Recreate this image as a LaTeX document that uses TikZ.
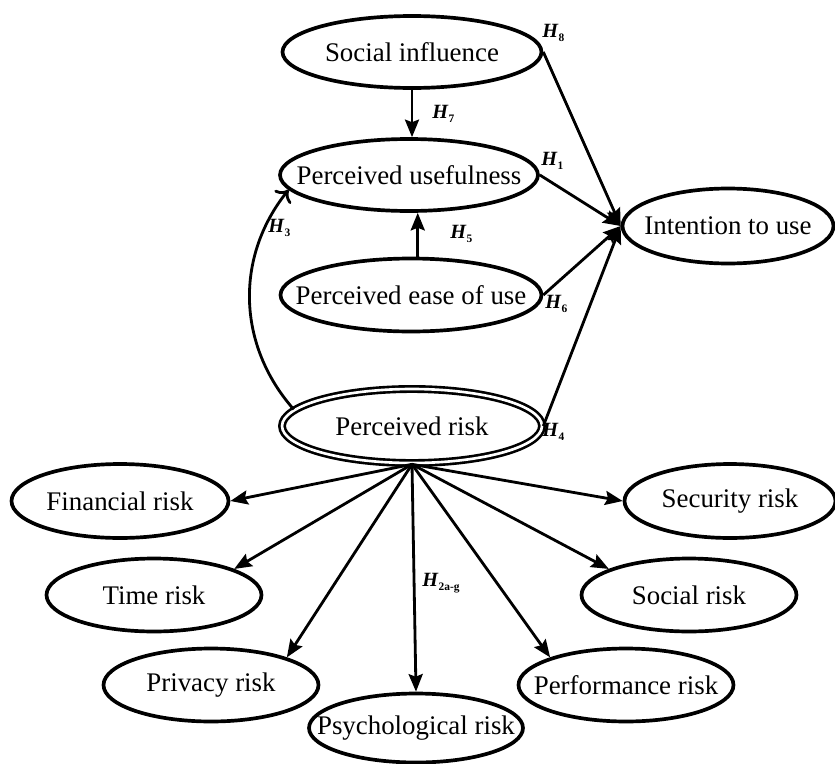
\documentclass[tikz,border=0pt]{standalone}
\usepackage{fontspec}
\setmainfont{Liberation Serif}
\usetikzlibrary{shapes.geometric,arrows.meta}

\newcommand{\boxtext}[1]{\makebox[0pt]{#1}}
\newcommand{\hlab}[1]{\textbf{\textit{H}}\raisebox{-0.5ex}{\fontsize{6.5}{7}\selectfont\bfseries #1}}

\tikzset{
  construct/.style={draw, ellipse, line width=2.1pt, inner sep=0pt, minimum width=4.3cm, minimum height=1.46cm},
  path arrow/.style={line width=1.6pt, -{Stealth[length=10pt,width=8pt,inset=1.5pt]}},
  hyplabel/.style={anchor=west, inner sep=0pt, font=\fontsize{11.5}{12}\selectfont},
}

\begin{document}
\begin{tikzpicture}[x=0.02cm, y=-0.02cm, font=\fontsize{15.3}{18}\selectfont]
            \useasboundingbox (0,0) rectangle (835,764);
            % model constructs
            \node[construct, minimum width=5.18cm, minimum height=1.44cm] (si) at (412,52) {\boxtext{Social influence}};
            \node[construct, minimum width=5.16cm, minimum height=1.44cm] (pu) at (409,175) {\boxtext{Perceived usefulness}};
            \node[construct, minimum width=5.22cm, minimum height=1.46cm] (peou) at (411,295) {\boxtext{Perceived ease of use}};
            \node[construct, double, double distance=1.5pt, line width=1.5pt, minimum width=5.2cm, minimum height=1.48cm] (pr) at (412,426) {\boxtext{Perceived risk}};
            \node[construct, minimum width=4.22cm, minimum height=1.5cm] (iu) at (728,226) {\boxtext{Intention to use}};
            % risk dimensions
            \node[construct, minimum width=4.34cm, minimum height=1.48cm] (fin) at (120,501) {\boxtext{Financial risk}};
            \node[construct, minimum width=4.22cm, minimum height=1.48cm] (sec) at (730,501) {\boxtext{Security risk}};
            \node[construct] (time) at (154,595) {\boxtext{Time risk}};
            \node[construct] (soc) at (689,595) {\boxtext{Social risk}};
            \node[construct] (priv) at (211,685) {\boxtext{Privacy risk}};
            \node[construct] (perf) at (626,685) {\boxtext{Performance risk}};
            \node[construct, minimum width=4.28cm, minimum height=1.38cm] (psy) at (416,728) {\boxtext{Psychological risk}};

            % paths
            \draw[path arrow] (si.south) -- (si.south |- pu.north);
            \draw[path arrow] (peou.80) -- (peou.80 |- pu.south);
            \draw[path arrow] (si.east) -- (iu.west);
            \draw[path arrow] (pu.east) -- (iu.west);
            \draw[path arrow] (peou.east) -- (iu.west);
            \draw[path arrow] (pr.east) -- (iu.west);
            \draw[line width=1.6pt, -{To[length=6pt,width=12pt]}] (pr.172) to[bend left=40] (pu.187);
            \foreach \t in {fin.east, time.18, priv.20, psy.north, perf.160, soc.162, sec.west}
                \draw[path arrow] (pr.south) -- (\t);

            % hypotheses
            \node[hyplabel] (h8) at (542,33) {\hlab{8}};
            \node[hyplabel] (h7) at (432,114) {\hlab{7}};
            \node[hyplabel] (h1) at (541,161) {\hlab{1}};
            \node[hyplabel] (h3) at (268,228) {\hlab{3}};
            \node[hyplabel] (h5) at (450,234) {\hlab{5}};
            \node[hyplabel] (h6) at (545,304) {\hlab{6}};
            \node[hyplabel] (h4) at (542,432) {\hlab{4}};
            \node[hyplabel] (h2) at (422,583) {\hlab{2a-g}};
\end{tikzpicture}
\end{document}
